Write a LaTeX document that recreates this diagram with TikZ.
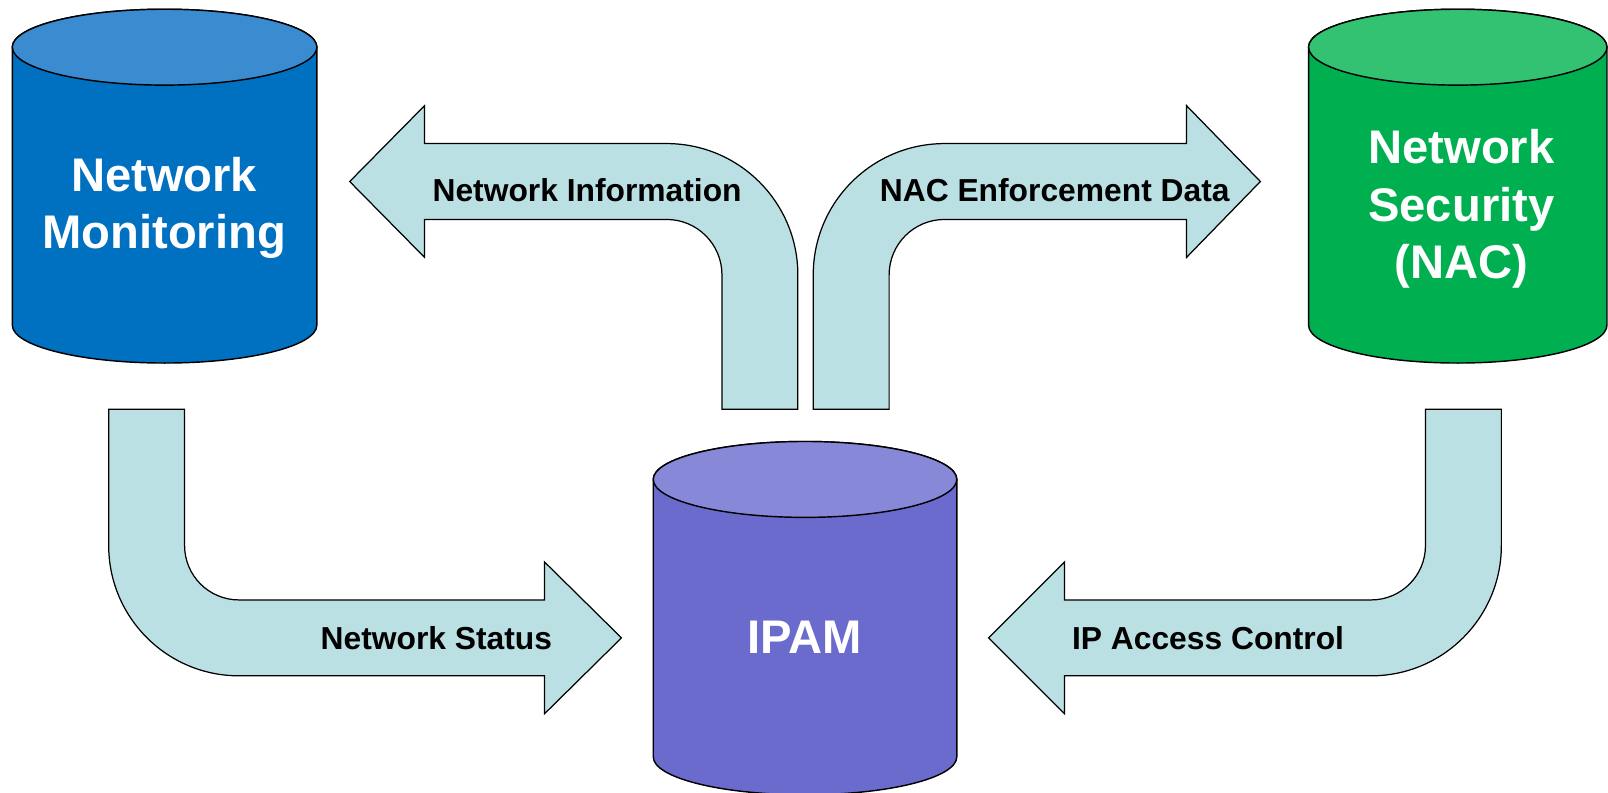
\documentclass[tikz,border=0pt]{standalone}
\usepackage{fontspec}
\setmainfont{Liberation Sans}
\definecolor{nmbody}{HTML}{0070C0}
\definecolor{nmtop}{HTML}{3A8BCF}
\definecolor{nsbody}{HTML}{00B050}
\definecolor{nstop}{HTML}{33C172}
\definecolor{ipbody}{HTML}{6B6BCD}
\definecolor{iptop}{HTML}{8888D9}
\definecolor{arrowfill}{HTML}{BBE0E3}
\begin{document}
\begin{tikzpicture}[x=1pt,y=-1pt,
  cylbody/.style={draw=black,line width=1.4pt},
  flowarrow/.style={draw=black,line width=1.2pt,fill=arrowfill,line join=miter},
  biglabel/.style={text=white,font=\bfseries\fontsize{46}{56}\selectfont,align=center,inner sep=0pt},
  arrowlabel/.style={text=black,font=\bfseries\fontsize{31}{37}\selectfont,inner sep=0pt,anchor=base}]
\useasboundingbox (0,0) rectangle (1568,773);
\begin{scope}
\clip (0,0) rectangle (1568,773);
% Network Monitoring cylinder
\path[cylbody,fill=nmbody] (12,46) -- (12,317) arc[start angle=180,end angle=0,x radius=148.5,y radius=37] -- (309,46) arc[start angle=0,end angle=-180,x radius=148.5,y radius=37] -- cycle;
\path[cylbody,fill=nmtop] (160.5,46) ellipse[x radius=148.5,y radius=37];
% Network Security cylinder
\path[cylbody,fill=nsbody] (1276,46) -- (1276,317) arc[start angle=180,end angle=0,x radius=145.5,y radius=37] -- (1567,46) arc[start angle=0,end angle=-180,x radius=145.5,y radius=37] -- cycle;
\path[cylbody,fill=nstop] (1421.5,46) ellipse[x radius=145.5,y radius=37];
% IPAM cylinder
\path[cylbody,fill=ipbody] (637,467.5) -- (637,738) arc[start angle=180,end angle=0,x radius=148,y radius=37] -- (933,467.5) arc[start angle=0,end angle=-180,x radius=148,y radius=37] -- cycle;
\path[cylbody,fill=iptop] (785,467.5) ellipse[x radius=148,y radius=37];
\end{scope}
\node[biglabel] (nm) at (160,203) {Network\\Monitoring};
\node[biglabel] (ns) at (1425,204) {Network\\Security\\(NAC)};
\node[biglabel,anchor=base] (ipam) at (785,637) {IPAM};
% Arrow: Network Information (IPAM -> Network Monitoring)
\path[flowarrow] (704,399) -- (704,268) arc[start angle=0,end angle=-90,radius=54] -- (414,214) -- (414,251) -- (341,177) -- (414,103) -- (414,140) -- (650,140) arc[start angle=-90,end angle=0,radius=128] -- (778,399) -- cycle;
% Arrow: NAC Enforcement Data (IPAM -> Network Security)
\path[flowarrow] (867,399) -- (867,268) arc[start angle=180,end angle=270,radius=54] -- (1157,214) -- (1157,251) -- (1229,177) -- (1157,103) -- (1157,140) -- (921,140) arc[start angle=270,end angle=180,radius=128] -- (793,399) -- cycle;
% Arrow: Network Status (Network Monitoring -> IPAM)
\path[flowarrow] (180,399) -- (180,532) arc[start angle=180,end angle=90,radius=53] -- (531,585) -- (531,548) -- (606,622) -- (531,696) -- (531,659) -- (233,659) arc[start angle=90,end angle=180,radius=127] -- (106,399) -- cycle;
% Arrow: IP Access Control (Network Security -> IPAM)
\path[flowarrow] (1390,399) -- (1390,532) arc[start angle=0,end angle=90,radius=53] -- (1038,585) -- (1038,548) -- (964,622) -- (1038,696) -- (1038,659) -- (1337,659) arc[start angle=90,end angle=0,radius=127] -- (1464,399) -- cycle;
\node[arrowlabel] (lbl1) at (572.5,196) {Network Information};
\node[arrowlabel] (lbl2) at (1028.5,196) {NAC Enforcement Data};
\node[arrowlabel] (lbl3) at (425.5,633) {Network Status};
\node[arrowlabel] (lbl4) at (1178,633) {IP Access Control};
\end{tikzpicture}
\end{document}
